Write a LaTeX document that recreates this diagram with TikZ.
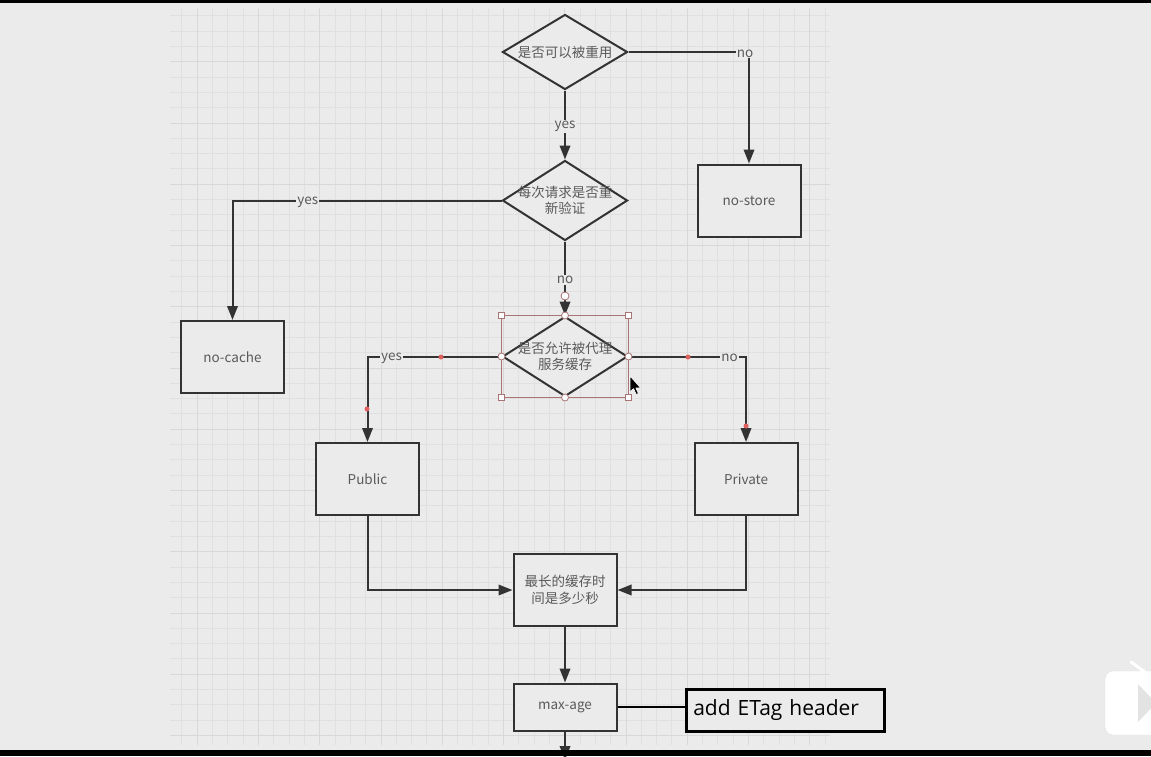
\documentclass[tikz,border=0pt]{standalone}
\usepackage{fontspec}
\newfontfamily\cjk{Noto Sans CJK SC}
\newfontfamily\tagfont{Open Sans}
\usetikzlibrary{shapes.geometric,arrows.meta}
\definecolor{bgcol}{HTML}{EBEBEB}
\definecolor{minorcol}{HTML}{E0E0E0}
\definecolor{majorcol}{HTML}{D8D8D8}
\definecolor{linecol}{HTML}{333333}
\definecolor{txtgray}{HTML}{5A5A5A}
\definecolor{selcol}{HTML}{A87474}
\definecolor{dotcol}{HTML}{E06060}
\begin{document}
\begin{tikzpicture}[x=1pt, y=-1pt, >={Triangle[length=14pt,width=10.5pt]},
  every node/.style={font=\cjk\fontsize{13.5}{16.5}\selectfont, text=txtgray},
  decision/.style={diamond, draw=linecol, line width=2pt, fill=bgcol, minimum width=125pt, minimum height=80pt, inner sep=0pt},
  box/.style={rectangle, draw=linecol, line width=2pt, fill=bgcol, minimum width=103pt, minimum height=72pt, align=center},
  flow/.style={draw=linecol, line width=2pt, ->},
  yn/.style={fill=bgcol, inner sep=1pt, yshift=-1.5pt},
  gridminor/.style={minorcol, line width=1pt},
  gridmajor/.style={majorcol, line width=1pt},
  handle/.style={draw=selcol, fill=white!95!bgcol, line width=0.8pt}]
  % 1. 背景与网格
  \useasboundingbox (0,0) rectangle (1151,756);
  \fill[bgcol] (0,0) rectangle (1151,756);
  \foreach \k in {-5,...,37} \draw[gridminor] ({round(258+15.3125*\k)+0.5},8) -- ({round(258+15.3125*\k)+0.5},745);
  \foreach \k in {-3,...,44} \draw[gridminor] (170,{round(61.25+15.3125*\k)+0.5}) -- (830,{round(61.25+15.3125*\k)+0.5});
  \foreach \k in {-1,...,9} \draw[gridmajor] ({round(258+61.25*\k)+0.5},8) -- ({round(258+61.25*\k)+0.5},745);
  \foreach \k in {1,...,12} \draw[gridmajor] (170,{round(61.25*\k)+0.5}) -- (830,{round(61.25*\k)+0.5});

  % 2. 判断节点
  \node[decision, minimum height=75pt, label={center:是否可以被重用}] (reuse) at (565,52) {};
  \node[decision, label={[align=center]center:{每次请求是否重\\新验证}}] (reval) at (565,200.5) {};
  \node[decision, label={[align=center]center:{是否允许被代理\\服务缓存}}] (proxy) at (565,356.5) {};

  % 3. 结果节点
  \node[box] (nostore) at (749,200.5) {no-store};
  \node[box] (nocache) at (232.5,357) {no-cache};
  \node[box] (public) at (367.5,479) {Public};
  \node[box] (private) at (746,479) {Private};
  \node[box] (maxtime) at (565,590) {最长的缓存时\\间是多少秒};
  \node[box, minimum height=47pt] (maxage) at (565,707) {max-age};
  \node[draw=black, line width=2.5pt, fill=bgcol, anchor=west, text=black, font=\tagfont\fontsize{21}{25}\selectfont,
        text width=184pt, inner xsep=7pt, minimum height=42pt, align=left] (etag) at (685,710.3) {add ETag header};
  \coordinate (offpage) at (565,760);

  % 4. 连线
  \draw[flow] (reuse.east) -| node[yn, pos=0.484] {no} (nostore.north);
  \draw[flow] (reuse.south) -- node[yn] {yes} (reval.north);
  \draw[flow] (reval.west) -| node[yn, pos=0.36] {yes} (nocache.north);
  \draw[flow] (reval.south) -- node[yn] {no} (proxy.north);
  \draw[flow] (proxy.west) -| node[yn, pos=0.41] {yes} (public.north);
  \draw[flow] (proxy.east) -| node[yn, pos=0.43] {no} (private.north);
  \draw[flow] (public.south) |- (maxtime.west);
  \draw[flow] (private.south) |- (maxtime.east);
  \draw[flow] (maxtime.south) -- (maxage.north);
  \draw[flow] (maxage.south) -- (offpage);
  \draw[black, line width=2.5pt] (maxage.east) -- (maxage.east -| etag.west);

  % 5. 选中框与控制点
  \coordinate (selnw) at (proxy.west |- proxy.north);
  \coordinate (selne) at (proxy.east |- proxy.north);
  \coordinate (selsw) at (proxy.west |- proxy.south);
  \coordinate (selse) at (proxy.east |- proxy.south);
  \draw[selcol, line width=0.8pt] (selnw) rectangle (selse);
  \foreach \c in {selnw, selne, selsw, selse}
    \draw[handle] ([shift={(-3.3,-3.3)}]\c) rectangle ([shift={(3.3,3.3)}]\c);
  \foreach \c in {north, south, west, east}
    \draw[handle] (proxy.\c) circle (3.5);
  \draw[handle] (565,296) circle (4);
  \foreach \p in {(441,357), (367,409), (688,357), (746,426)}
    \fill[dotcol] \p circle (2.5);

  % 6. 鼠标指针
  \draw[white, fill=black, line width=0.6pt, line join=round]
    (630,376) -- (630,392) -- (633.6,388.6) -- (636.2,394.5) -- (638.4,393.5) -- (635.8,387.8) -- (640.5,387.8) -- cycle;

  % 7. 右下角图标与上下黑边
  \fill[white, draw=gray!25, rounded corners=8pt] (1105,671) rectangle (1165,735);
  \draw[white, line width=3pt, line cap=round] (1131,662) -- (1145,672);
  \fill[gray!22] (1138,684) -- (1156,703) -- (1138,722) -- cycle;
  \fill[black] (0,0) rectangle (1151,3);
  \fill[black] (0,750) rectangle (1151,756);
\end{tikzpicture}
\end{document}
